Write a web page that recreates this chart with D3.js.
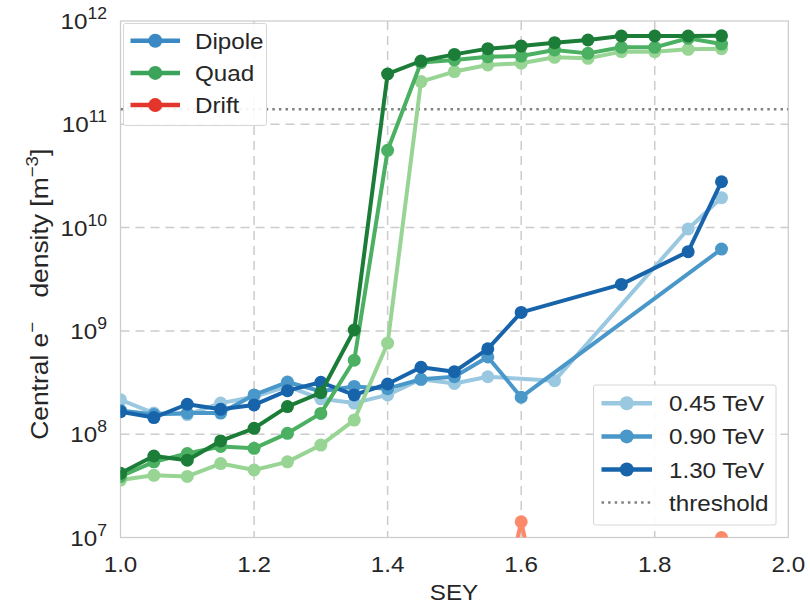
<!DOCTYPE html>
<html>
<head>
<meta charset="utf-8">
<script src="https://cdn.jsdelivr.net/npm/d3@7"></script>
<style>
  html, body { margin: 0; padding: 0; background: #fff; }
  svg text { font-family: Arial, "Liberation Sans", sans-serif; fill: #262626; }
</style>
</head>
<body>
<svg id="chart" width="810" height="605"></svg>
<script>
// Secondary electron yield scan
const sey = [1.0, 1.05, 1.1, 1.15, 1.2, 1.25, 1.3, 1.35, 1.4, 1.45, 1.5, 1.55, 1.6, 1.65, 1.7, 1.75, 1.8, 1.85, 1.9];

// Central electron density [m^-3]; null = no simulation point
const dipole045 = [2.15e8, 1.6e8, 1.55e8, 2.0e8, 2.3e8, 2.9e8, 2.2e8, 2.0e8, 2.4e8, 3.4e8, 3.1e8, 3.6e8, null, 3.3e8, null, null, null, 9.7e9, 1.95e10];
const dipole090 = [1.7e8, 1.55e8, 1.6e8, 1.6e8, 2.4e8, 3.2e8, 2.6e8, 2.9e8, 2.76e8, 3.4e8, 3.6e8, 5.6e8, 2.28e8, null, null, null, null, null, 6.2e9];
const dipole130 = [1.65e8, 1.45e8, 1.95e8, 1.74e8, 1.92e8, 2.64e8, 3.18e8, 2.4e8, 3.06e8, 4.45e8, 4.03e8, 6.7e8, 1.51e9, null, null, 2.82e9, null, 5.85e9, 2.78e10];

const quad045 = [3.6e7, 4.0e7, 3.9e7, 5.2e7, 4.5e7, 5.4e7, 7.85e7, 1.37e8, 7.6e8, 2.59e11, 3.24e11, 3.75e11, 3.9e11, 4.45e11, 4.35e11, 5.05e11, 5.05e11, 5.32e11, 5.4e11];
const quad090 = [3.9e7, 5.4e7, 6.5e7, 7.6e7, 7.3e7, 1.02e8, 1.59e8, 5.2e8, 5.6e10, 3.96e11, 4.19e11, 4.5e11, 4.58e11, 5.24e11, 4.86e11, 5.56e11, 5.56e11, 6.8e11, 5.98e11];
const quad130 = [4.18e7, 6.15e7, 5.6e7, 8.6e7, 1.14e8, 1.85e8, 2.52e8, 1.02e9, 3.07e11, 4.1e11, 4.75e11, 5.4e11, 5.72e11, 6.17e11, 6.55e11, 7.16e11, 7.16e11, 7.16e11, 7.2e11];

const drift045 = [null, null, null, null, null, null, null, null, null, null, null, 5e5, 1.42e7, 5e5, null, null, null, 5e5, 1.0e7];

const threshold = 1.4e11;

const energies = ["0.45 TeV", "0.90 TeV", "1.30 TeV"];
const magnetTypes = ["Dipole", "Quad", "Drift"];
const xTicks = [1.0, 1.2, 1.4, 1.6, 1.8, 2.0];
const yTickExp = [7, 8, 9, 10, 11, 12];

const blueShades = ["#9ac8e0", "#4a98c9", "#1764ab"];
const greenShades = ["#98d594", "#4bb062", "#1b7d38"];
const redShades = ["#fc8a6a"];
const typeColors = ["#3a89c2", "#3ca35b", "#e3352b"];

const series = [
  { values: dipole045, color: blueShades[0] },
  { values: dipole090, color: blueShades[1] },
  { values: dipole130, color: blueShades[2] },
  { values: quad045, color: greenShades[0] },
  { values: quad090, color: greenShades[1] },
  { values: quad130, color: greenShades[2] },
  { values: drift045, color: redShades[0] }
];

const svg = d3.select("#chart");
const m = { left: 120.5, right: 788.3, top: 21, bottom: 537.5 };
const SX = 1.1; // horizontal glyph stretch used for all labels

const x = d3.scaleLinear().domain([1.0, 2.0]).range([m.left, m.right]);
const y = d3.scaleLog().domain([1e7, 1e12]).range([m.bottom, m.top]);

svg.append("defs").append("clipPath").attr("id", "plotClip")
  .append("rect")
  .attr("x", m.left).attr("y", m.top)
  .attr("width", m.right - m.left).attr("height", m.bottom - m.top);

// Grid
const grid = svg.append("g");
grid.selectAll("line.vx").data(xTicks.slice(1, -1)).join("line")
  .attr("x1", d => x(d)).attr("x2", d => x(d))
  .attr("y1", m.top).attr("y2", m.bottom)
  .attr("stroke", "#cccccc").attr("stroke-width", 1.5).attr("stroke-dasharray", "9,6");
grid.selectAll("line.hy").data(yTickExp.slice(1, -1)).join("line")
  .attr("x1", m.left).attr("x2", m.right)
  .attr("y1", d => y(Math.pow(10, d))).attr("y2", d => y(Math.pow(10, d)))
  .attr("stroke", "#cccccc").attr("stroke-width", 1.5).attr("stroke-dasharray", "9,6");

// Frame
svg.append("rect")
  .attr("x", m.left).attr("y", m.top)
  .attr("width", m.right - m.left).attr("height", m.bottom - m.top)
  .attr("fill", "none").attr("stroke", "#cccccc").attr("stroke-width", 1.25);

const plot = svg.append("g").attr("clip-path", "url(#plotClip)");

// Threshold
plot.append("line")
  .attr("x1", m.left).attr("x2", m.right)
  .attr("y1", y(threshold)).attr("y2", y(threshold))
  .attr("stroke", "#808080").attr("stroke-width", 2.5).attr("stroke-dasharray", "2.5,4.1");

const line = d3.line().x(d => x(d[0])).y(d => y(d[1]));

series.forEach(s => {
  const pts = sey.map((v, i) => [v, s.values[i]]).filter(p => p[1] != null);
  const g = plot.append("g");
  g.append("path").attr("d", line(pts))
    .attr("fill", "none").attr("stroke", s.color)
    .attr("stroke-width", 4).attr("stroke-linejoin", "round");
  g.selectAll("circle").data(pts).join("circle")
    .attr("cx", d => x(d[0])).attr("cy", d => y(d[1]))
    .attr("r", 6.5).attr("fill", s.color);
});

// Text helper: positioned text with horizontal stretch
function label(parent, px, py, extra) {
  return parent.append("text")
    .attr("transform", `translate(${px},${py})${extra || ""} scale(${SX},1)`);
}

// Axes tick labels
const xg = svg.append("g");
xTicks.forEach(d => {
  label(xg, x(d), 572).attr("text-anchor", "middle").attr("font-size", 22).text(d.toFixed(1));
});

const yg = svg.append("g");
yTickExp.forEach(d => {
  const t = label(yg, 107, y(Math.pow(10, d)) + 8).attr("text-anchor", "end").attr("font-size", 22);
  t.append("tspan").text("10");
  t.append("tspan").attr("font-size", 16).attr("dy", -10).text(d);
});

// Axis titles
label(svg, 454, 600).attr("text-anchor", "middle").attr("font-size", 22).text("SEY");

const yl = label(svg, 48, (m.top + m.bottom) / 2 + 15, " rotate(-90)")
  .attr("text-anchor", "middle").attr("font-size", 24);
yl.append("tspan").text("Central e");
yl.append("tspan").attr("font-size", 17).attr("dy", -10).text("\u2212");
yl.append("tspan").attr("dy", 10).attr("dx", 22).text("density [m");
yl.append("tspan").attr("font-size", 17).attr("dy", -10).text("\u22123");
yl.append("tspan").attr("dy", 10).text("]");

// Legends
function legend(items, box) {
  const g = svg.append("g");
  g.append("rect")
    .attr("x", box.x).attr("y", box.y).attr("width", box.w).attr("height", box.h)
    .attr("fill", "#ffffff").attr("fill-opacity", 0.9)
    .attr("stroke", "#d6d6d6").attr("stroke-width", 1).attr("rx", 2);
  items.forEach((it, i) => {
    const cy = box.row0 + i * box.step;
    const l = g.append("line")
      .attr("x1", box.hx0).attr("x2", box.hx1).attr("y1", cy).attr("y2", cy)
      .attr("stroke", it.color);
    if (it.dotted) {
      l.attr("stroke-width", 2.5).attr("stroke-dasharray", "2.5,4.1");
    } else {
      l.attr("stroke-width", 4.5);
      g.append("circle").attr("cx", (box.hx0 + box.hx1) / 2).attr("cy", cy)
        .attr("r", 7).attr("fill", it.color);
    }
    label(g, box.tx, cy + 8).attr("font-size", 22).text(it.label);
  });
}

legend(magnetTypes.map((t, i) => ({ label: t, color: typeColors[i] })),
  { x: 123.5, y: 23.5, w: 143, h: 102, row0: 40.7, step: 32.2, hx0: 130.5, hx1: 180, tx: 195 });

legend(energies.map((e, i) => ({ label: e, color: blueShades[i] }))
  .concat([{ label: "threshold", color: "#808080", dotted: true }]),
  { x: 593.5, y: 385, w: 182.5, h: 140, row0: 403.3, step: 33.1, hx0: 601.5, hx1: 652, tx: 669 });
</script>
</body>
</html>
